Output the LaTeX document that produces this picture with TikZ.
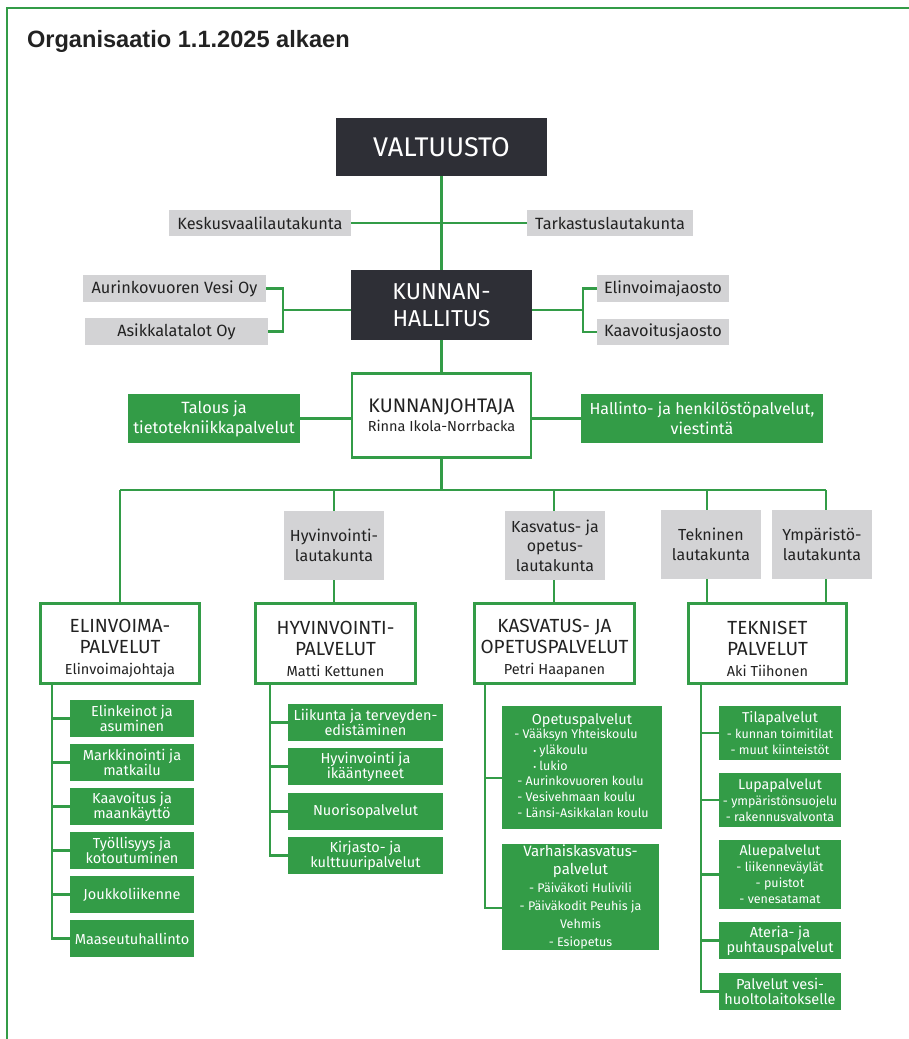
\documentclass[tikz,border=0pt]{standalone}
\usepackage{fontspec}
\setmainfont{Fira Sans}
\newfontfamily\titlefont{Liberation Sans}
\usetikzlibrary{backgrounds}
\definecolor{dk}{HTML}{2E2F36}
\definecolor{gr}{HTML}{D3D3D5}
\definecolor{gn}{HTML}{339C47}
\definecolor{tx}{HTML}{222222}
\newcommand\fsz[2]{\fontsize{#1}{#2}\selectfont}
\newcommand\smt{\fsz{12.5}{15.5}}
\newcommand\ttl{\fsz{14.3}{16}}
\newcommand\subt{\fsz{14.5}{23}}
\tikzset{
  box/.style={inner sep=0pt, align=center, anchor=center},
  wh/.style 2 args={minimum width=#1pt, minimum height=#2pt},
  darkbox/.style={box, fill=dk, text=white},
  graybox/.style={box, fill=gr, text=tx},
  greenbox/.style={box, fill=gn, text=white},
  whitebox/.style={box, draw=gn, line width=2.8pt, fill=white, text=tx},
  conn/.style={draw=gn, line width=2.4pt},
  frameline/.style={draw=gn, line width=2.6pt},
  subbox/.style={greenbox, wh={124}{37}, font=\fsz{14.5}{15}},
  hsub/.style={greenbox, wh={155}{37}, font=\fsz{14.5}{15}},
  tsub/.style={greenbox, minimum width=122pt},
  svc/.style={whitebox, font=\fsz{19}{21}},
}
\begin{document}
\begin{tikzpicture}[x=1pt,y=-1pt]
\useasboundingbox (0,0) rectangle (909,1039);
\draw[frameline] (7,1041) -- (7,8) -- (911,8);
\node[anchor=base west, text=tx, font=\titlefont\bfseries\fsz{23.6}{26}] (title) at (23.5,47) {Organisaatio 1.1.2025 alkaen};

% top level
\node[darkbox, wh={211}{58}, font=\fsz{27}{30}] (valt) at (441.5,147) {VALTUUSTO};
\node[graybox, wh={182}{26}, font=\fsz{16.3}{18}] (kesk) at (260,223) {Keskusvaalilautakunta};
\node[graybox, wh={166}{26}, font=\fsz{16.3}{18}] (tark) at (610,223) {Tarkastuslautakunta};
\node[darkbox, wh={181}{70}, font=\fsz{23}{27}] (kh) at (441.5,305) {KUNNAN-\\HALLITUS};
\node[graybox, wh={183}{27}, font=\fsz{16.3}{18}] (aur) at (174.5,288.5) {Aurinkovuoren Vesi Oy};
\node[graybox, wh={183}{27}, font=\fsz{16.3}{18}] (asik) at (176.5,331.5) {Asikkalatalot Oy};
\node[graybox, wh={132}{27}, font=\fsz{16.3}{18}] (elj) at (663,288.5) {Elinvoimajaosto};
\node[graybox, wh={132}{26}, font=\fsz{16.3}{18}] (kaav) at (663,332) {Kaavoitusjaosto};

\node[whitebox, wh={179}{84}, font=\fsz{19.6}{19}] (kj) at (441.5,415.5) {KUNNANJOHTAJA\\\fsz{14.5}{19}Rinna Ikola-Norrbacka};
\node[greenbox, wh={172}{49}, font=\fsz{16.3}{20}] (tal) at (214,418.5) {Talous ja\\tietotekniikkapalvelut};
\node[greenbox, wh={242}{49}, font=\fsz{16}{20}] (hal) at (702,418.5) {Hallinto- ja henkilöstöpalvelut,\\viestintä};

% boards
\node[graybox, wh={100}{69}, font=\fsz{16}{19.5}] (lhyv) at (334,545.5) {Hyvinvointi-\\lautakunta};
\node[graybox, wh={100}{69}, font=\fsz{16}{19.5}] (lkas) at (555,545.5) {Kasvatus- ja\\opetus-\\lautakunta};
\node[graybox, wh={100}{69}, font=\fsz{16}{19.5}] (ltek) at (711,544.5) {Tekninen\\lautakunta};
\node[graybox, wh={100}{69}, font=\fsz{16}{19.5}] (lymp) at (822,544.5) {Ympäristö-\\lautakunta};

% service areas
\node[svc, wh={159}{80}] (elv) at (120,643.5) {\rule{0pt}{24pt}ELINVOIMA-\\PALVELUT\\\subt Elinvoimajohtaja};
\node[svc, wh={160}{80}] (hyv) at (335.5,643.5) {\rule{0pt}{24pt}HYVINVOINTI-\\PALVELUT\\\subt Matti Kettunen};
\node[svc, wh={160}{80}] (kas) at (554.5,643.5) {\rule{0pt}{24pt}KASVATUS- JA\\OPETUSPALVELUT\\\subt Petri Haapanen};
\node[svc, wh={158}{80}] (tek) at (767.5,643.5) {\rule{0pt}{24pt}TEKNISET\\PALVELUT\\\subt Aki Tiihonen};

% elinvoima units
\node[subbox] (e1) at (132,718.5) {Elinkeinot ja\\asuminen};
\node[subbox] (e2) at (132,762.5) {Markkinointi ja\\matkailu};
\node[subbox] (e3) at (132,806.5) {Kaavoitus ja\\maankäyttö};
\node[subbox] (e4) at (132,850.5) {Työllisyys ja\\kotoutuminen};
\node[subbox] (e5) at (132,894.5) {Joukkoliikenne};
\node[subbox] (e6) at (132,938.5) {Maaseutuhallinto};

% hyvinvointi units
\node[hsub] (h1) at (365.5,722.5) {Liikunta ja terveyden-\\edistäminen};
\node[hsub] (h2) at (365.5,766.5) {Hyvinvointi ja\\ikääntyneet};
\node[hsub] (h3) at (365.5,811.5) {Nuorisopalvelut};
\node[hsub] (h4) at (365.5,855.5) {Kirjasto- ja\\kulttuuripalvelut};

% kasvatus units
\node[greenbox, wh={160}{123}, align=left, font=\fsz{12.5}{15.7}] (ope) at (582,767.5) {%
  \begin{tabular}{@{}l@{}}
  \multicolumn{1}{@{}c@{}}{\fsz{14.5}{17}Opetuspalvelut}\\[-1pt]
  \hspace{-1pt}- Vääksyn Yhteiskoulu\\
  \hspace{18pt}{\fsz{9}{10}•} yläkoulu\\
  \hspace{18pt}{\fsz{9}{10}•} lukio\\
  \hspace{2pt}- Aurinkovuoren koulu\\
  \hspace{2pt}- Vesivehmaan koulu\\
  \hspace{2pt}- Länsi-Asikkalan koulu
  \end{tabular}};
\node[greenbox, wh={157}{106}, font=\fsz{15}{18}] (varh) at (580.5,897) {Varhaiskasvatus-\\palvelut\\\fsz{12.5}{19}- Päiväkoti Hulivili\\\smt- Päiväkodit Peuhis ja\\\smt Vehmis\\\smt- Esiopetus};

% tekniset units
\node[tsub, minimum height=54pt, font=\ttl] (t1) at (780,733) {Tilapalvelut\\\smt- kunnan toimitilat\\\smt- muut kiinteistöt};
\node[tsub, minimum height=54pt, font=\ttl] (t2) at (780,800) {Lupapalvelut\\\smt- ympäristönsuojelu\\\smt- rakennusvalvonta};
\node[tsub, minimum height=69pt, font=\ttl] (t3) at (780,874.5) {Aluepalvelut\\\smt- liikenneväylät\\\smt- puistot\\\smt- venesatamat};
\node[tsub, minimum height=37pt, font=\fsz{14.5}{15}] (t4) at (780,940.5) {Ateria- ja\\puhtauspalvelut};
\node[tsub, minimum height=37pt, font=\fsz{14.5}{15}] (t5) at (780,991.5) {Palvelut vesi-\\huoltolaitokselle};

% connectors
\begin{pgfonlayer}{background}
\coordinate (lb) at (283,310);
\coordinate (rb) at (583,310);
\coordinate (b1) at (120,490);
\coordinate (b2) at (334,490);
\coordinate (b3) at (554,490);
\coordinate (b4) at (707,490);
\coordinate (b5) at (826,490);
\coordinate (e0) at (52,685);
\coordinate (h0) at (270,685);
\coordinate (k0) at (485,685);
\coordinate (k1) at (485,778);
\coordinate (k2) at (485,908);
\coordinate (t0) at (701,685);

\draw[conn] (valt) -- (kh);
\draw[conn] (kesk) -- (tark);
\draw[conn] (kh) -- (kj);
\draw[conn] (aur.east) -| (lb) |- (asik.east);
\draw[conn] (lb) -- (lb -| kh.west);
\draw[conn] (elj.west) -| (rb) |- (kaav.west);
\draw[conn] (rb) -- (rb -| kh.east);
\draw[conn] (tal.east) -- (tal.east -| kj.west);
\draw[conn] (hal.west) -- (hal.west -| kj.east);
\draw[conn] (kj.south) -- (kj.south |- b1);
\draw[conn] (b1) -- (b5);
\draw[conn] (b1) -- (elv.north);
\draw[conn] (b2) -- (b2 |- hyv.north);
\draw[conn] (b3) -- (b3 |- kas.north);
\draw[conn] (b4) -- (b4 |- tek.north);
\draw[conn] (b5) -- (b5 |- tek.north);

\draw[conn] (e0) |- (e6.west);
\foreach \n in {e1,e2,e3,e4,e5} \draw[conn] (\n.west) -- (\n.west -| e0);
\draw[conn] (h0) |- (h4.west);
\foreach \n in {h1,h2,h3} \draw[conn] (\n.west) -- (\n.west -| h0);
\draw[conn] (k0) -- (k2) -- (k2 -| varh.west);
\draw[conn] (k1) -- (k1 -| ope.west);
\draw[conn] (t0) |- (t5.west);
\foreach \n in {t1,t2,t3,t4} \draw[conn] (\n.west) -- (\n.west -| t0);
\end{pgfonlayer}
\end{tikzpicture}
\end{document}
